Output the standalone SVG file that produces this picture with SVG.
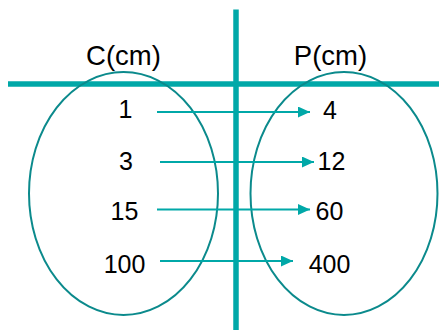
<svg xmlns="http://www.w3.org/2000/svg" width="439" height="330" viewBox="0 0 439 330">
<style>
.axis{stroke:#00A8A8;stroke-width:5.5;fill:none}
.set{stroke:#0B8A8C;stroke-width:2;fill:none}
.arr{stroke:#00A8A8;stroke-width:2;fill:none;marker-end:url(#ah)}
.t{font-family:"Liberation Sans",Arial,sans-serif;font-size:25px;fill:#000;text-anchor:middle}
.h{font-size:27.5px}
</style>
<defs>
<marker id="ah" markerUnits="userSpaceOnUse" markerWidth="13" markerHeight="12" refX="12" refY="5.5" orient="auto">
<path d="M0,0 L12,5.5 L0,11 z" fill="#00A8A8"/>
</marker>
</defs>
<rect width="439" height="330" fill="#fff"/>
<g id="axes">
<line class="axis" x1="8" y1="84" x2="439" y2="84"/>
<line class="axis" x1="236" y1="9.5" x2="236" y2="330"/>
</g>
<g id="setC">
<ellipse class="set" cx="123.5" cy="193.5" rx="94.5" ry="121.5"/>
<text class="t h" x="123.5" y="64.5">C(cm)</text>
<text class="t" x="125.5" y="118">1</text>
<text class="t" x="126" y="170">3</text>
<text class="t" x="124.5" y="220">15</text>
<text class="t" x="124.5" y="273">100</text>
</g>
<g id="setP">
<ellipse class="set" cx="344" cy="193.5" rx="93.5" ry="121.5"/>
<text class="t h" x="330.5" y="64.5">P(cm)</text>
<text class="t" x="330" y="119">4</text>
<text class="t" x="331.5" y="170">12</text>
<text class="t" x="329.5" y="220">60</text>
<text class="t" x="329.5" y="273">400</text>
</g>
<g id="connectors">
<line class="arr" x1="157" y1="112" x2="310" y2="112"/>
<line class="arr" x1="160" y1="162" x2="314" y2="162"/>
<line class="arr" x1="157" y1="209.5" x2="310" y2="209.5"/>
<line class="arr" x1="160" y1="261" x2="293" y2="261"/>
</g>
</svg>
